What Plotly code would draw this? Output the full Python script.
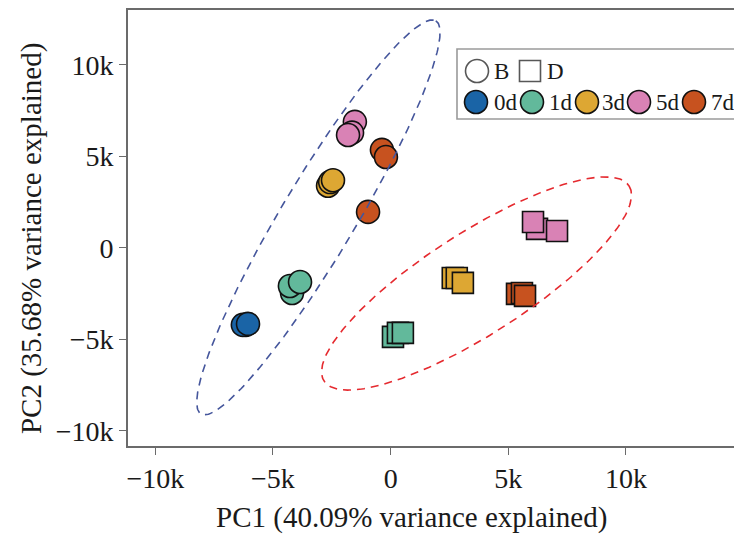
import numpy as np
import plotly.graph_objects as go

# ---------------- data ----------------
days = ["0d", "1d", "3d", "5d", "7d"]
day_colors = ["#1a64a6", "#62b99b", "#dda733", "#d982b5", "#c7521f"]
groups = ["B", "D"]

b_day = ["0d", "0d", "0d", "1d", "1d", "1d", "3d", "3d", "3d", "5d", "5d", "5d", "7d", "7d", "7d"]
b_pc1 = [-6150, -6280, -6060, -4190, -4280, -3850, -2660, -2570, -2450, -1520, -1640, -1810, -370, -200, -960]
b_pc2 = [-4200, -4200, -4150, -2460, -2080, -1860, 3400, 3600, 3700, 6890, 6300, 6170, 5360, 4970, 1970]

d_day = ["1d", "1d", "1d", "3d", "3d", "3d", "5d", "5d", "5d", "7d", "7d", "7d"]
d_pc1 = [100, 310, 520, 2640, 2810, 3070, 6220, 6050, 7070, 5370, 5580, 5710]
d_pc2 = [-4860, -4640, -4640, -1640, -1640, -1910, 1040, 1420, 930, -2510, -2460, -2620]

# confidence ellipses: centre, half major-axis vector, half minor-axis vector (data units)
ell_b = {"center": [-3070, 1670], "major": [4990, 10740], "minor": [1350, -1040]}
ell_d = {"center": [3650, -1940], "major": [6480, 5330], "minor": [1170, -2350]}

tick_vals = [-10000, -5000, 0, 5000, 10000]
x_tick_text = ["\u221210k", "\u22125k", "0", "5k", "10k"]
y_tick_text = ["\u221210k", "\u22125k", "0", "5k", "10k"]

x_title = "PC1 (40.09% variance explained)"
y_title = "PC2 (35.68% variance explained)"

FONT = "Liberation Serif, Times New Roman, serif"

fig = go.Figure()

# points
for grp, dd, xx, yy, sym, size in [
    ("B", b_day, b_pc1, b_pc2, "circle", 23),
    ("D", d_day, d_pc1, d_pc2, "square", 21),
]:
    cols = [day_colors[days.index(d)] for d in dd]
    fig.add_trace(go.Scatter(
        x=xx, y=yy, mode="markers", showlegend=False,
        marker=dict(symbol=sym, size=size, color=cols,
                    line=dict(color="#111111", width=1.6)),
        hoverinfo="x+y",
    ))

# ellipses (drawn on top)
t = np.linspace(0, 2 * np.pi, 300)
for ell, col in [(ell_b, "#45569c"), (ell_d, "#e52a2f")]:
    cx, cy = ell["center"]
    ax_, ay_ = ell["major"]
    bx_, by_ = ell["minor"]
    ex = cx + ax_ * np.cos(t) + bx_ * np.sin(t)
    ey = cy + ay_ * np.cos(t) + by_ * np.sin(t)
    fig.add_trace(go.Scatter(
        x=ex, y=ey, mode="lines", showlegend=False, hoverinfo="skip",
        line=dict(color=col, width=1.6, dash="8px,6px"),
    ))

# custom legend on an overlay axis (pixel-like units inside plot area)
leg_row1_y = 61
leg_row2_y = 92
grp_sym_x = [349, 402]
grp_txt_x = [364, 417]
grp_syms = ["circle", "square"]
grp_sizes = [23, 21]
day_sym_x = [348, 404, 459, 511, 566]
day_txt_x = [364, 419, 472, 526, 581]

fig.add_trace(go.Scatter(
    x=grp_sym_x, y=[leg_row1_y] * 2, xaxis="x2", yaxis="y2", mode="markers",
    showlegend=False, hoverinfo="skip",
    marker=dict(symbol=grp_syms, size=grp_sizes, color="white",
                line=dict(color="#111111", width=1.6)),
))
fig.add_trace(go.Scatter(
    x=day_sym_x, y=[leg_row2_y] * 5, xaxis="x2", yaxis="y2", mode="markers",
    showlegend=False, hoverinfo="skip",
    marker=dict(symbol="circle", size=23, color=day_colors,
                line=dict(color="#111111", width=1.6)),
))

annotations = []
for txt, xx in zip(groups, grp_txt_x):
    annotations.append(dict(x=xx, y=leg_row1_y, xref="x2", yref="y2", text=txt,
                            showarrow=False, xanchor="left", yanchor="middle",
                            font=dict(family=FONT, size=23, color="#1a1a1a")))
for txt, xx in zip(days, day_txt_x):
    annotations.append(dict(x=xx, y=leg_row2_y, xref="x2", yref="y2", text=txt,
                            showarrow=False, xanchor="left", yanchor="middle",
                            font=dict(family=FONT, size=23, color="#1a1a1a")))

# axis titles (placed as in the reference)
annotations.append(dict(x=0.4625, y=-0.165, xref="paper", yref="paper", text=x_title,
                        showarrow=False, xanchor="center", yanchor="middle",
                        font=dict(family=FONT, size=29, color="#1a1a1a")))
annotations.append(dict(x=-0.158, y=0.477, xref="paper", yref="paper", text=y_title,
                        showarrow=False, xanchor="center", yanchor="middle", textangle=-90,
                        font=dict(family=FONT, size=29, color="#1a1a1a")))

axis_common = dict(
    showgrid=False, zeroline=False, showline=True, linecolor="#6b6b6b", linewidth=1.6,
    ticks="outside", ticklen=7, tickwidth=1.4, tickcolor="#6b6b6b",
    tickfont=dict(family=FONT, size=28, color="#1a1a1a"),
    tickvals=tick_vals, automargin=False,
)

fig.update_layout(
    width=742, height=534,
    margin=dict(l=120, r=8, t=2, b=96),
    paper_bgcolor="white", plot_bgcolor="white",
    font=dict(family=FONT),
    xaxis=dict(axis_common, range=[-11160, 14930], ticktext=x_tick_text, mirror=True),
    yaxis=dict(axis_common, range=[-10820, 13000], ticktext=y_tick_text),
    xaxis2=dict(overlaying="x", range=[0, 614], visible=False, domain=[0, 1]),
    yaxis2=dict(overlaying="y", range=[436, 0], visible=False, domain=[0, 1]),
    shapes=[dict(type="rect", xref="x2", yref="y2", x0=329, x1=607, y0=39, y1=109,
                 line=dict(color="#9a9a9a", width=1.6), fillcolor="rgba(0,0,0,0)")],
    annotations=annotations,
    showlegend=False,
)

fig.write_html("out.html")
